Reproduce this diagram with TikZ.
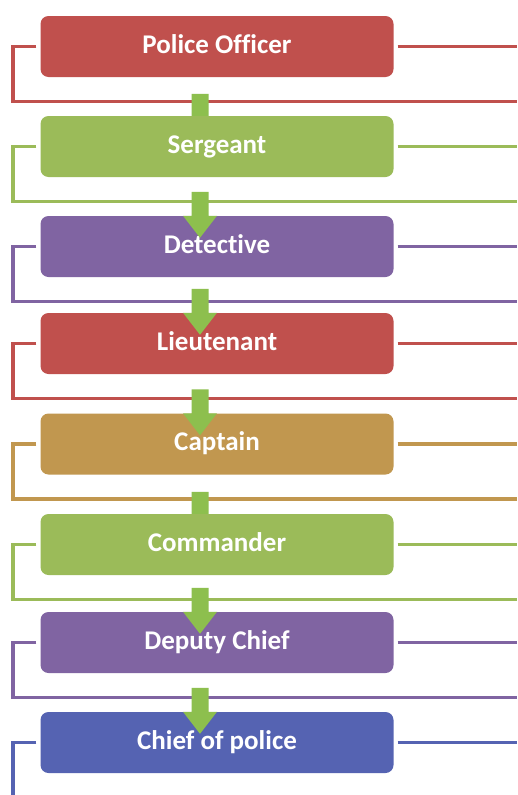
\documentclass[tikz,border=0pt]{standalone}
\usepackage{fontspec}
\setmainfont[Ligatures=NoCommon]{Carlito}
\usetikzlibrary{calc}
\pgfdeclarelayer{bg}
\pgfdeclarelayer{mid}
\pgfdeclarelayer{front}
\pgfsetlayers{bg,mid,main,front}
\definecolor{cred}{HTML}{C0504D}
\definecolor{cgreen}{HTML}{9BBB59}
\definecolor{cpurple}{HTML}{8064A2}
\definecolor{cgold}{HTML}{C1974F}
\definecolor{cblue}{HTML}{5563B2}
\definecolor{agreen}{HTML}{8DBF4E}
\tikzset{
  rankbox/.style={draw=none, fill=#1, rounded corners=8pt, minimum width=353pt,
    minimum height=61pt, text=white, font=\fontsize{27}{30}\selectfont\bfseries,
    text height=18pt, text depth=5pt, inner sep=0pt},
  bracket/.style={draw=#1, line width=3.3pt},
  downarrow/.pic={\fill[agreen] (-8.5,0) -- (8.5,0) -- (8.5,-24) -- (17,-24) -- (0,-46) -- (-17,-24) -- (-8.5,-24) -- cycle;}
}
\begin{document}
\begin{tikzpicture}[x=1pt,y=1pt]
\useasboundingbox (0,0) rectangle (517,-795);
\node[rankbox=cred]    (b1) at (217,-46.5)  {Police Officer};
\node[rankbox=cgreen]  (b2) at (217,-146.5) {Sergeant};
\node[rankbox=cpurple] (b3) at (217,-246.5) {Detective};
\node[rankbox=cred]    (b4) at (217,-343.5) {Lieutenant};
\node[rankbox=cgold]   (b5) at (217,-444)   {Captain};
\node[rankbox=cgreen]  (b6) at (217,-544.5) {Commander};
\node[rankbox=cpurple] (b7) at (217,-642.5) {Deputy Chief};
\node[rankbox=cblue]   (b8) at (217,-742.5) {Chief of police};
\begin{pgfonlayer}{bg}
\fill[white] (0,0) rectangle (517,-795);
\foreach \b/\c in {b1/cred,b2/cgreen,b3/cpurple,b4/cred,b5/cgold,b6/cgreen,b7/cpurple}{
  \coordinate (\b L) at ($(\b.west)+(-4,0)$);
  \coordinate (\b R) at ($(\b.east)+(4,0)$);
  \coordinate (\b C) at (\b.west -| 13,0);
  \coordinate (\b D) at ($(\b C)+(0,-55)$);
  \coordinate (\b E) at ($(\b D -| 517,0)$);
  \coordinate (\b F) at (\b.east -| 517,0);
  \draw[bracket=\c] (\b L) -- (\b C) -- (\b D) -- (\b E);
  \draw[bracket=\c] (\b R) -- (\b F);
}
\coordinate (b8L) at ($(b8.west)+(-4,0)$);
\coordinate (b8R) at ($(b8.east)+(4,0)$);
\coordinate (b8C) at (b8.west -| 13,0);
\coordinate (b8D) at (13,-795);
\coordinate (b8F) at (b8.east -| 517,0);
\draw[bracket=cblue] (b8L) -- (b8C) -- (b8D);
\draw[bracket=cblue] (b8R) -- (b8F);
\end{pgfonlayer}
\begin{pgfonlayer}{mid}
\foreach \b in {b2,b6}{
  \pic at ($(\b.north)+(-17,22)$) {downarrow};
}
\end{pgfonlayer}
\begin{pgfonlayer}{front}
\foreach \b in {b3,b4,b5,b7,b8}{
  \pic at ($(\b.north)+(-17,24)$) {downarrow};
}
\end{pgfonlayer}
\end{tikzpicture}
\end{document}
